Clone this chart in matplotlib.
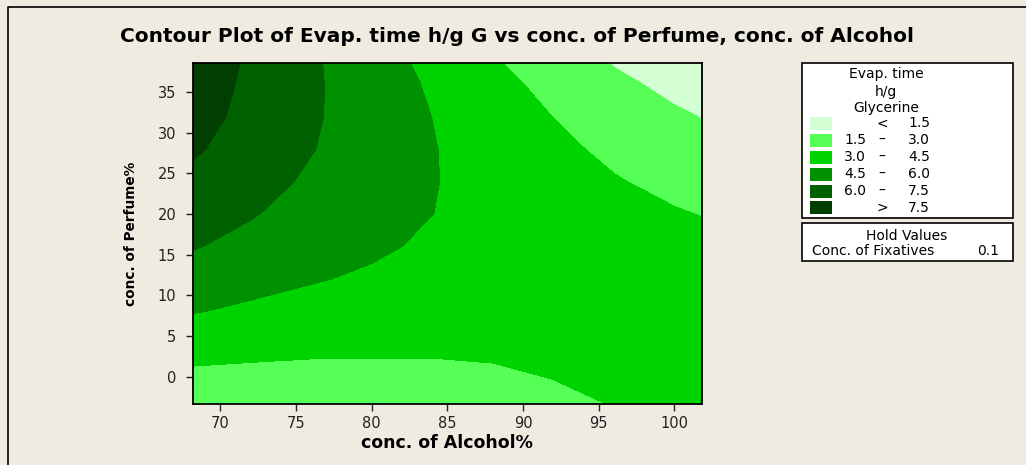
import numpy as np
import matplotlib
matplotlib.use("Agg")
import matplotlib.pyplot as plt
from matplotlib.patches import Rectangle
from matplotlib.lines import Line2D

# ---- data: evap. time ----------------------------------------------------- #
alcohol = [68.2, 72, 76, 80, 84, 88, 92, 96, 100, 101.8]
perfume = [-3.4, 0, 4, 8, 12, 16, 20, 24, 28, 32, 36, 38.6]
evap = [
    [1.90, 1.97, 2.06, 2.27, 2.40, 2.35, 2.60, 3.05, 3.35, 3.50],
    [2.70, 2.65, 2.63, 2.71, 2.80, 2.75, 3.05, 3.35, 3.55, 3.65],
    [3.63, 3.45, 3.31, 3.22, 3.15, 3.35, 3.45, 3.60, 3.78, 3.85],
    [4.56, 4.27, 3.99, 3.73, 3.49, 3.60, 3.70, 3.75, 3.85, 3.90],
    [5.33, 4.93, 4.60, 4.30, 3.83, 3.82, 3.82, 3.80, 3.78, 3.80],
    [6.09, 5.58, 5.08, 4.72, 4.28, 4.00, 3.90, 3.75, 3.55, 3.45],
    [6.62, 6.10, 5.46, 5.03, 4.51, 4.12, 3.81, 3.47, 3.11, 2.96],
    [7.17, 6.52, 5.80, 5.20, 4.56, 4.08, 3.57, 3.10, 2.64, 2.46],
    [7.68, 6.88, 6.06, 5.30, 4.56, 3.94, 3.33, 2.70, 2.17, 1.96],
    [8.01, 7.12, 6.18, 5.32, 4.49, 3.73, 2.98, 2.30, 1.69, 1.46],
    [8.22, 7.24, 6.21, 5.25, 4.32, 3.42, 2.60, 1.80, 1.15, 0.90],
    [8.40, 7.30, 6.20, 5.15, 4.13, 3.14, 2.26, 1.42, 0.75, 0.55],
]
levels = [0, 1.5, 3.0, 4.5, 6.0, 7.5, 10]
legend_lo = ["", "1.5", "3.0", "4.5", "6.0", ""]
legend_op = ["<", "–", "–", "–", "–", ">"]
legend_hi = ["1.5", "3.0", "4.5", "6.0", "7.5", "7.5"]
COLORS = ["#D4FFD4", "#55FF55", "#00D400", "#009100", "#006100", "#003F00"]
BG = "#EFEBE1"

W, H = 1026, 465


def fx(x):
    return x / W


def fy(y):
    return 1 - y / H


fig = plt.figure(figsize=(W / 100, H / 100), dpi=100, facecolor=BG)
ax = fig.add_axes([fx(193), fy(404.3), fx(701.7) - fx(193), fy(62.7) - fy(404.3)])

X, Y = np.meshgrid(alcohol, perfume)
ax.contourf(X, Y, np.array(evap), levels=levels, colors=COLORS)
ax.set_xlim(68.2, 101.8)
ax.set_ylim(-3.4, 38.6)
ax.set_xticks(range(70, 101, 5))
ax.set_yticks(range(0, 36, 5))
ax.tick_params(direction="out", length=5, width=1, labelsize=10.5, colors="#222222")
ax.tick_params(axis="x", pad=3.5)
ax.tick_params(axis="y", pad=7)
for s in ax.spines.values():
    s.set_linewidth(1.3)
ax.set_xlabel("conc. of Alcohol%", fontsize=12.5, fontweight="bold", labelpad=2)
ax.set_ylabel("conc. of Perfume%", fontsize=9.8, fontweight="bold", labelpad=14)

fig.text(fx(517), fy(37), "Contour Plot of Evap. time h/g G vs conc. of Perfume, conc. of Alcohol",
         ha="center", va="center", fontsize=14.5, fontweight="bold")

# ---- legend panels ---------------------------------------------------------- #
fig.patches.append(Rectangle((fx(801.7), fy(217.7)), fx(1013) - fx(801.7), fy(62.7) - fy(217.7),
                             transform=fig.transFigure, facecolor="white", edgecolor="black", lw=1.2))
fig.patches.append(Rectangle((fx(801.7), fy(261.3)), fx(1013) - fx(801.7), fy(222.7) - fy(261.3),
                             transform=fig.transFigure, facecolor="white", edgecolor="black", lw=1.2))
for txt, y in zip(["Evap. time", "h/g", "Glycerine"], [74, 91.7, 107.7]):
    fig.text(fx(886), fy(y), txt, ha="center", va="center", fontsize=10)
rows_y = [123.3, 140.3, 157.3, 174.3, 191.3, 208]
for c, lo, op, hi, y in zip(COLORS, legend_lo, legend_op, legend_hi, rows_y):
    fig.patches.append(Rectangle((fx(810), fy(y + 6.5)), fx(22), fy(0) - fy(13),
                                 transform=fig.transFigure, facecolor=c, edgecolor="none"))
    fig.text(fx(855), fy(y), lo, ha="center", va="center", fontsize=10)
    fig.text(fx(882), fy(y), op, ha="center", va="center", fontsize=10)
    fig.text(fx(919), fy(y), hi, ha="center", va="center", fontsize=10)
fig.text(fx(907), fy(235.7), "Hold Values", ha="center", va="center", fontsize=10)
fig.text(fx(812), fy(251), "Conc. of Fixatives", ha="left", va="center", fontsize=10)
fig.text(fx(988), fy(251), "0.1", ha="center", va="center", fontsize=10)

# outer frame (left and top edges visible in the reference)
fig.lines.append(Line2D([fx(8), fx(8), 1], [0, fy(7), fy(7)], transform=fig.transFigure,
                        color="black", lw=1.2))

fig.savefig("out.png", dpi=100, facecolor=BG)
